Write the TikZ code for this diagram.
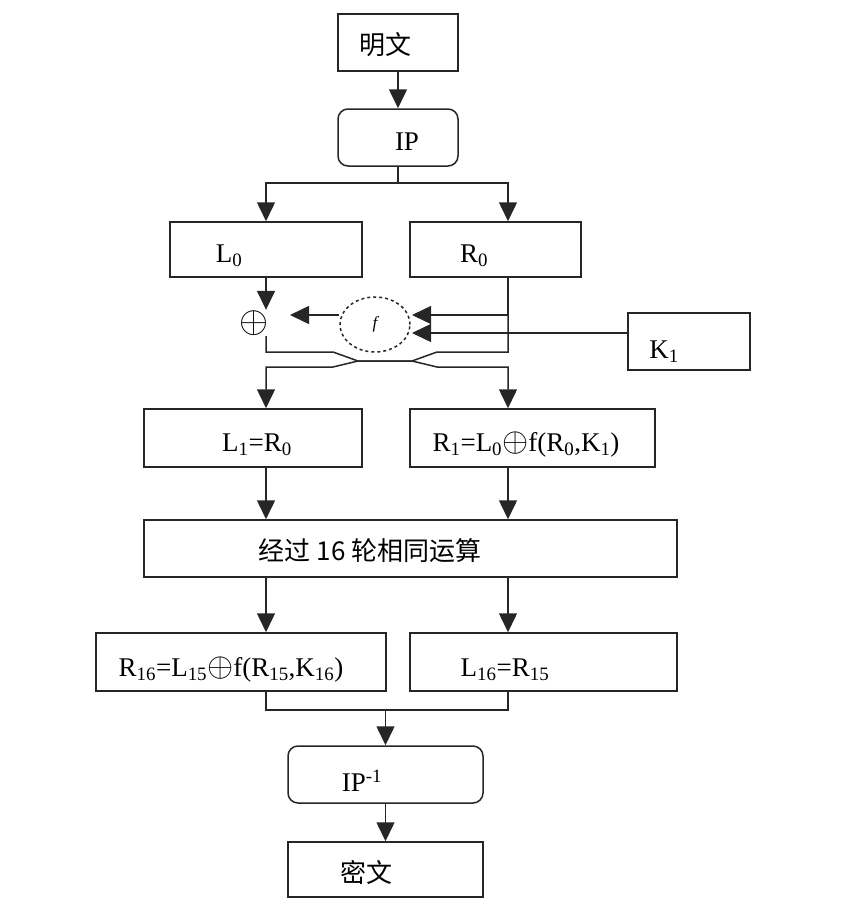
\documentclass[tikz,border=0pt]{standalone}
\usepackage{fontspec}
\setmainfont{Liberation Serif}
\newfontfamily\cjk{Noto Sans CJK SC}
\usetikzlibrary{shapes.geometric,arrows.meta}
\newcommand{\xorop}{\scalebox{1.35}{$\oplus$}}
\tikzset{
    box/.style ={
        rectangle,              % 矩形节点
        minimum height = 57pt,  % 最小高度
        inner sep = 0pt,        % 文字和边框的距离
        line width = 1.5pt,
        draw=black!85           % 边框颜色
    },
    rbox/.style ={
        box,
        rounded corners = 10pt  % 圆角
    },
    txt/.style ={
        font=\fontsize{27}{29}\selectfont,
        inner sep = 0pt
    },
    cjktxt/.style ={
        font=\cjk\fontsize{26}{28}\selectfont,
        inner sep = 0pt
    }
}

\begin{document}
\begin{tikzpicture}[x=1pt, y=-1pt, line width=1.5pt, draw=black!85,
    >={Triangle[width=18pt,length=19pt]}]
    \useasboundingbox (0,0) rectangle (853,910);
    \coordinate (cl) at (266,0);
    \coordinate (cr) at (508,0);
    \node[box, minimum width=120pt,
        label={[cjktxt,xshift=-13pt,yshift=-2pt]center:明文}] (1) at(398,42.5) {};
    \node[rbox, minimum width=120pt,
        label={[txt,xshift=9pt,yshift=-4pt]center:IP}] (2) at(398,137.5) {};
    \node[box, minimum width=192pt, minimum height=55pt,
        label={[txt,xshift=-37pt,yshift=-6pt]center:L\textsubscript{0}}] (3) at(266,249.5) {};
    \node[box, minimum width=171pt, minimum height=55pt,
        label={[txt,xshift=-21.5pt,yshift=-6pt]center:R\textsubscript{0}}] (4) at(495.5,249.5) {};
    \node[ellipse, draw, dashed, minimum width=70pt, minimum height=55pt,
        inner sep=0pt, font=\fontsize{17}{19}\selectfont\itshape] (5) at(375,324.5) {f};
    \node[box, minimum width=122pt,
        label={[txt,xshift=-25pt,yshift=-10pt]center:K\textsubscript{1}}] (6) at(689,341.5) {};
    \node[txt] (x) at(254,323) {\scalebox{1.5}{$\oplus$}};
    \node[box, minimum width=218pt, minimum height=58pt,
        label={[txt,xshift=4pt,yshift=-7pt]center:L\textsubscript{1}=R\textsubscript{0}}] (7) at(253,438) {};
    \node[box, minimum width=245pt, minimum height=58pt,
        label={[txt,xshift=-6.5pt,yshift=-7pt]center:R\textsubscript{1}=L\textsubscript{0}\xorop f(R\textsubscript{0},K\textsubscript{1})}] (8) at(532.5,438) {};
    \node[box, minimum width=533pt,
        label={[cjktxt,xshift=-40.5pt,yshift=-2pt]center:经过 16 轮相同运算}] (9) at(410.5,548.5) {};
    \node[box, minimum width=290pt, minimum height=58pt,
        label={[txt,xshift=-10pt,yshift=-8pt]center:R\textsubscript{16}=L\textsubscript{15}\xorop f(R\textsubscript{15},K\textsubscript{16})}] (10) at(241,662) {};
    \node[box, minimum width=267pt, minimum height=58pt,
        label={[txt,xshift=-38.5pt,yshift=-8pt]center:L\textsubscript{16}=R\textsubscript{15}}] (11) at(543.5,662) {};
    \node[rbox, minimum width=195pt,
        label={[txt,xshift=-23.5pt,yshift=-6pt]center:IP\textsuperscript{-1}}] (12) at(385.5,774.5) {};
    \node[box, minimum width=195pt, minimum height=55pt,
        label={[cjktxt,xshift=-19.5pt,yshift=-3pt]center:密文}] (13) at(385.5,869.5) {};
    % IP 之后分成左右两路
    \coordinate (s1) at(398,183);
    \draw[->] (1) -- (2);
    \draw (2.south) -- (s1);
    \draw[->] (s1) -| (3.north -| cl);
    \draw[->] (s1) -| (4.north -| cr);
    % 第一轮
    \coordinate (fo) at(290,315);
    \coordinate (fi1) at(412,315);
    \coordinate (fi2) at(412,333);
    \draw[->] (3.south -| cl) -- (cl |- x.north);
    \draw[->] (5.west |- fo) -- (fo);
    \draw[->] (4.south -| cr) |- (fi1);
    \draw[->] (6.west |- fi2) -- (fi2);
    \draw[->] (x.south -| cl) -- (266,352) -- (333,352) -- (358,361) -- (412,361)
        -- (437,367) -- (508,367) -- (8.north -| cr);
    \draw[->] (4.south -| cr) -- (508,352) -- (437,352) -- (412,361) -- (358,361)
        -- (333,367) -- (266,367) -- (7.north -| cl);
    % 16 轮
    \draw[->] (7.south -| cl) -- (9.north -| cl);
    \draw[->] (8.south -| cr) -- (9.north -| cr);
    \draw[->] (9.south -| cl) -- (10.north -| cl);
    \draw[->] (9.south -| cr) -- (11.north -| cr);
    % 合并后逆置换
    \coordinate (j) at(385.5,710);
    \draw (10.south -| cl) |- (j);
    \draw (11.south -| cr) |- (j);
    \draw[->] (j) -- (12.north);
    \draw[->] (12) -- (13);
\end{tikzpicture}
\end{document}
